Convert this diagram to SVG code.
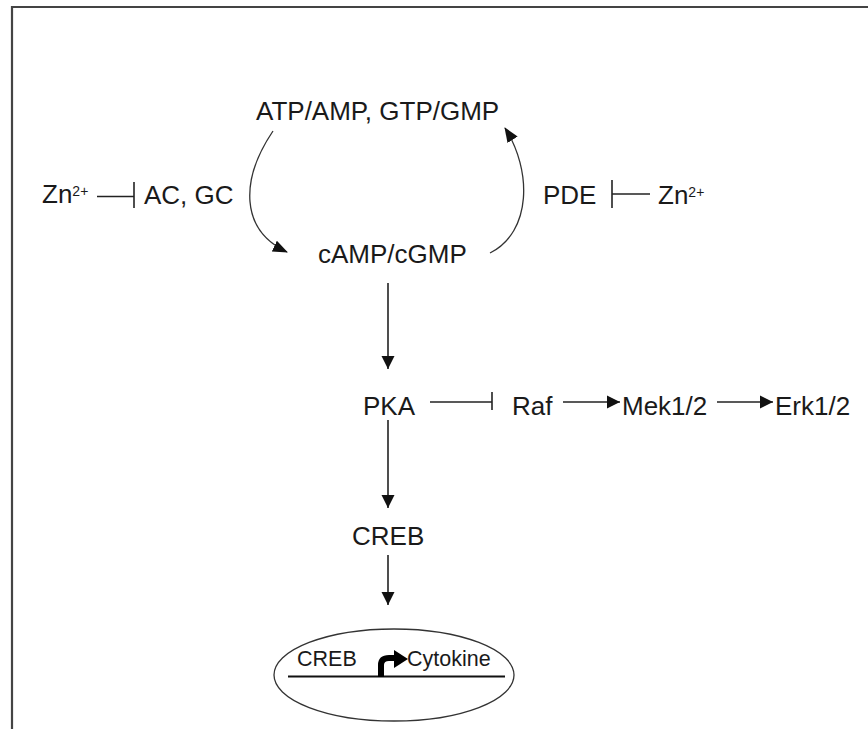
<svg xmlns="http://www.w3.org/2000/svg" width="868" height="729" viewBox="0 0 868 729">
<style>
text{font-family:"Liberation Sans",Arial,sans-serif;fill:#1a1a1a;font-size:26px}
.sup{font-size:14px}
.small{font-size:21.5px}
.ln{stroke:#222;stroke-width:1.6;fill:none}
.cv{stroke:#333;stroke-width:1.3;fill:none}
</style>
<defs>
<marker id="ah" markerUnits="userSpaceOnUse" markerWidth="14" markerHeight="14" viewBox="0 0 14 14" refX="13" refY="7" orient="auto">
<path d="M0,0.5 L13,7 L0,13.5 Z" fill="#111"/>
</marker>
<marker id="ah2" markerUnits="userSpaceOnUse" markerWidth="16" markerHeight="16" viewBox="0 0 16 16" refX="14" refY="8" orient="auto">
<path d="M0,2 L15,8 L0,14 Z" fill="#111"/>
</marker>
</defs>
<rect width="868" height="729" fill="#fff"/>
<path d="M12,729 L12,7 L868,7" fill="none" stroke="#444" stroke-width="2.2"/>

<g id="atp"><text x="256" y="120">ATP/AMP, GTP/GMP</text></g>
<g id="zn-left"><text x="42" y="203">Zn<tspan class="sup" dy="-7">2+</tspan></text></g>
<g id="acgc"><text x="144" y="204">AC, GC</text></g>
<g id="camp"><text x="318" y="263">cAMP/cGMP</text></g>
<g id="pde"><text x="543" y="204">PDE</text></g>
<g id="zn-right"><text x="658" y="204">Zn<tspan class="sup" dy="-7">2+</tspan></text></g>
<g id="pka"><text x="363" y="415">PKA</text></g>
<g id="raf"><text x="512" y="415">Raf</text></g>
<g id="mek"><text x="622" y="415">Mek1/2</text></g>
<g id="erk"><text x="775" y="415">Erk1/2</text></g>
<g id="creb"><text x="352" y="545">CREB</text></g>
<g id="nucleus">
<ellipse cx="394" cy="675" rx="120" ry="46" fill="none" stroke="#333" stroke-width="1.3"/>
<text class="small" x="297" y="666">CREB</text>
<text class="small" x="407" y="666">Cytokine</text>
<line x1="288" y1="676.5" x2="505" y2="676.5" stroke="#111" stroke-width="2"/>
<path d="M381,677 L381,665 Q381,658 389,658 L396,658" fill="none" stroke="#000" stroke-width="6"/>
<path d="M394,650 L408,659 L394,668 Z" fill="#000"/>
</g>

<g id="connectors">
<path class="cv" d="M273,131 C240,180 240,230 287,252" marker-end="url(#ah2)"/>
<path class="cv" d="M490,253 C532,232 532,170 505,128" marker-end="url(#ah2)"/>
<line class="ln" x1="97" y1="196.5" x2="134" y2="196.5"/>
<line class="ln" x1="134" y1="182" x2="134" y2="208"/>
<line class="ln" x1="612" y1="194" x2="650" y2="194"/>
<line class="ln" x1="612" y1="180" x2="612" y2="208"/>
<line class="ln" x1="388" y1="283" x2="388" y2="369" marker-end="url(#ah)"/>
<line class="ln" x1="430" y1="402" x2="492" y2="402"/>
<line class="ln" x1="492" y1="392" x2="492" y2="410"/>
<line class="ln" x1="563" y1="402" x2="620" y2="402" marker-end="url(#ah)"/>
<line class="ln" x1="717" y1="402" x2="773" y2="402" marker-end="url(#ah)"/>
<line class="ln" x1="388" y1="420" x2="388" y2="508" marker-end="url(#ah)"/>
<line class="ln" x1="388" y1="555" x2="388" y2="605" marker-end="url(#ah)"/>
</g>
</svg>
